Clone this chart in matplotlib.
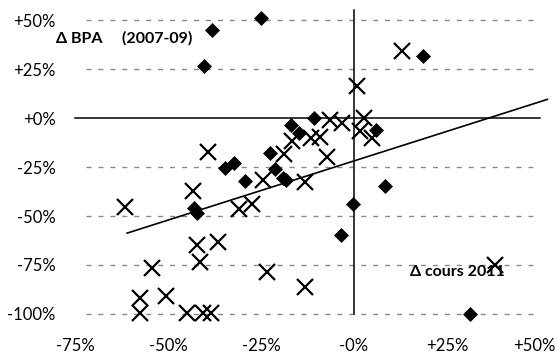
import matplotlib
matplotlib.use("Agg")
import matplotlib.pyplot as plt
from matplotlib.transforms import ScaledTranslation

plt.rcParams['font.family'] = ['Lato', 'DejaVu Sans']

# Companies: share price change 2011 (x, %) vs EPS change 2007-09 (y, %)
diamond_x = [-25, -38.2, -40.3, 18.5, -17, -14.8, -10.7, 5.9, 8.3, -0.3, -3.5, 31.2,
             -34.7, -32.2, -29.3, -22.6, -21.2, -19.2, -18.2, -43.0, -42.2]
diamond_y = [51, 45, 26.5, 31.6, -3.8, -7.7, 0, -6.1, -34.7, -43.9, -59.7, -100,
             -25.5, -23, -32.1, -17.9, -26, -30.6, -31.5, -45.9, -48.5]

cross_x = [12.9, 0.8, -6.5, -3.2, 2.7, 1.6, 4.8, -9.1, -11.6, -16.7, -18.8, -7.3,
           -13.2, -24.5, -39.2, -43.3, -30.9, -27.4, -61.6, -42.2, -36.6, -41.4,
           -54.3, -23.4, -13.2, 37.9, -57.5, -50.5, -57.5, -44.9, -40.6, -38.4]
cross_y = [34.2, 16.3, -1, -2.6, 0, -6.6, -10.2, -9.7, -10.2, -11.7, -18.4, -19.9,
           -32.7, -31.6, -17.3, -37.2, -46.4, -43.9, -45.4, -64.8, -63.3, -73.5,
           -76.5, -78.6, -86.2, -75, -91.8, -90.8, -99.5, -99.5, -99.5, -99.5]

# Linear trend line
trend_slope = 0.604
trend_intercept = -21.9
trend_x = [-61, 52]

x_ticks = [-75, -50, -25, 0, 25, 50]
x_tick_labels = ['-75%', '-50%', '-25%', '-0%', '+25%', '+50%']
y_ticks = [50, 25, 0, -25, -50, -75, -100]
y_tick_labels = ['+50%', '+25%', '+0%', '-25%', '-50%', '-75%', '-100%']
grid_levels = [50, 25, -25, -50, -75, -100]

fig = plt.figure(figsize=(5.58, 3.56), dpi=100)
ax = fig.add_axes([0.1344, 0.118, 0.8333, 0.8533])
ax.set_xlim(-75, 50)
ax.set_ylim(-100, 55)

for lvl in grid_levels:
    ax.plot([-72, 49], [lvl, lvl], color='#888888', lw=1.0,
            linestyle=(0, (3.6, 5.0)), zorder=1, clip_on=False)

ax.plot([-75, 50], [0, 0], color='black', lw=1.1, zorder=2, clip_on=False)
ax.plot([0, 0], [-100, 55], color='black', lw=1.1, zorder=2, clip_on=False)

ax.plot(diamond_x, diamond_y, linestyle='none', marker='D', markersize=7.2,
        color='black', markeredgewidth=0.5, zorder=3, clip_on=False)
ax.plot(cross_x, cross_y, linestyle='none', marker='x', markersize=12,
        color='black', markeredgewidth=1.6, zorder=3, clip_on=False)

trend_y = [trend_slope * v + trend_intercept for v in trend_x]
ax.plot(trend_x, trend_y, color='black', lw=1.2, zorder=4, clip_on=False)

ax.set_xticks(x_ticks)
ax.set_xticklabels(x_tick_labels)
ax.set_yticks(y_ticks)
ax.set_yticklabels(y_tick_labels)
ax.tick_params(axis='both', length=0, labelsize=12)
ax.tick_params(axis='x', pad=17)
ax.tick_params(axis='y', pad=14)
for s in ax.spines.values():
    s.set_visible(False)

# keep the rightmost x label inside the figure edge
last = ax.get_xticklabels()[-1]
last.set_transform(last.get_transform() +
                   ScaledTranslation(-4 / 72, 0, fig.dpi_scale_trans))

ax.text(-80, 40.5, 'Δ BPA     (2007-09)', fontsize=11.5, fontweight='bold',
        ha='left', va='center')
ax.text(15, -78.5, 'Δ cours 2011', fontsize=11.5, fontweight='bold',
        ha='left', va='center')

fig.savefig('out.png', dpi=100)
